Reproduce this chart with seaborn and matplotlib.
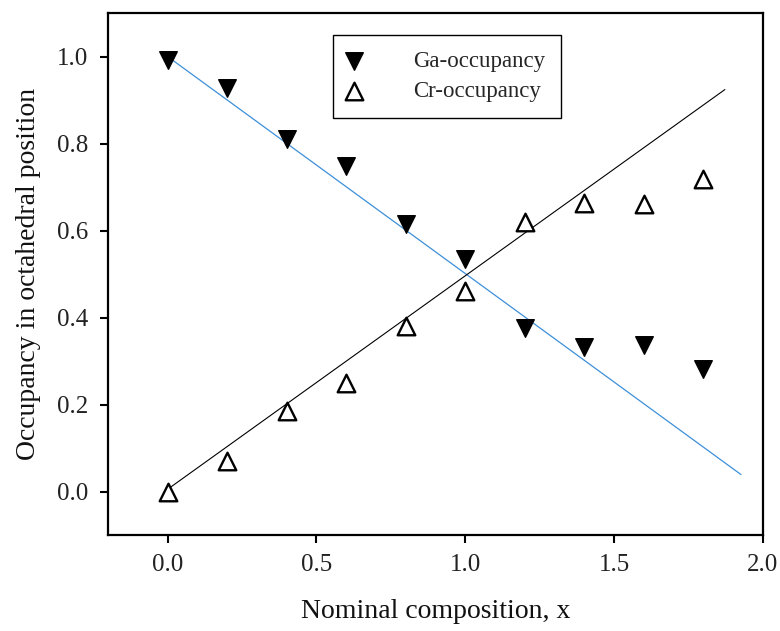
import matplotlib
matplotlib.use("Agg")
import matplotlib.pyplot as plt
import seaborn as sns
import pandas as pd

# Data
x_comp = [0.0, 0.2, 0.4, 0.6, 0.8, 1.0, 1.2, 1.4, 1.6, 1.8]
ga_occ = [0.993, 0.927, 0.81, 0.748, 0.615, 0.534, 0.376, 0.333, 0.337, 0.282]
cr_occ = [0.0, 0.071, 0.186, 0.25, 0.38, 0.46, 0.62, 0.663, 0.66, 0.718]
ga_line_x = [0.0, 1.926]
ga_line_y = [1.0, 0.039]
cr_line_x = [0.0, 1.872]
cr_line_y = [0.005, 0.924]
xticks = [0.0, 0.5, 1.0, 1.5, 2.0]
yticks = [0.0, 0.2, 0.4, 0.6, 0.8, 1.0]

sns.set_style("ticks")
plt.rcParams['font.family'] = ['Liberation Serif', 'DejaVu Serif']

fig = plt.figure(figsize=(7.8, 6.31), dpi=100)
ax = fig.add_axes([108/780, 1-535/631, (763-108)/780, (535-13)/631])

sns.lineplot(x=ga_line_x, y=ga_line_y, ax=ax, color='#3d8fd9', lw=0.9, zorder=2)
sns.lineplot(x=cr_line_x, y=cr_line_y, ax=ax, color='black', lw=0.8, zorder=2)

df = pd.DataFrame({'x': x_comp, 'ga': ga_occ, 'cr': cr_occ})
sns.scatterplot(data=df, x='x', y='ga', ax=ax, marker='v', s=160, color='black',
                edgecolor='black', linewidth=1, label='Ga-occupancy', zorder=3)
sns.scatterplot(data=df, x='x', y='cr', ax=ax, marker='^', s=160, facecolor='white',
                edgecolor='black', linewidth=1.7, label='Cr-occupancy', zorder=3)

ax.set_xlim(-0.2, 2.0)
ax.set_ylim(-0.1, 1.1)
ax.set_xticks(xticks)
ax.set_xticklabels([f"{t:.1f}" for t in xticks])
ax.set_yticks(yticks)
ax.set_yticklabels([f"{t:.1f}" for t in yticks])
ax.tick_params(direction='out', length=6, width=1.5, labelsize=18, pad=8, color='black',
               labelcolor='#222222')
for s in ax.spines.values():
    s.set_visible(True)
    s.set_linewidth(1.6)
    s.set_color('black')
ax.set_xlabel('Nominal composition, x', fontsize=20, labelpad=16, color='#111111')
ax.set_ylabel('Occupancy in octahedral position', fontsize=20, labelpad=12, color='#111111')

leg = ax.legend(loc='upper left', bbox_to_anchor=(0.3435, 0.958), frameon=True, fancybox=False,
                edgecolor='black', fontsize=16.5, borderpad=0.7, handletextpad=2.4,
                labelspacing=0.4, borderaxespad=0, handlelength=0.4, framealpha=1)
leg.get_frame().set_linewidth(1.0)

fig.savefig('out.png', dpi=100)
